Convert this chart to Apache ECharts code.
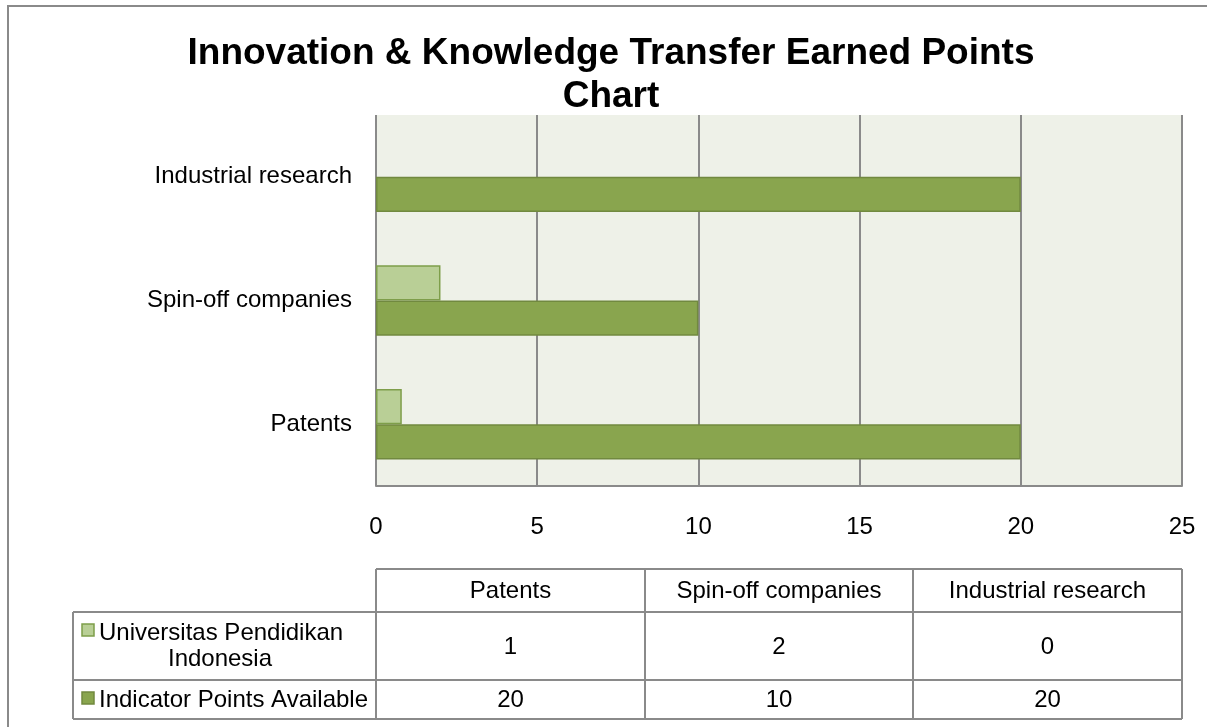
<!DOCTYPE html>
<html>
<head>
<meta charset="utf-8">
<script src="https://cdn.jsdelivr.net/npm/echarts@6/dist/echarts.min.js"></script>
<style>
html,body{margin:0;padding:0;background:#fff;}
#chart{width:1207px;height:727px;}
</style>
</head>
<body>
<div id="chart"></div>
<script>
// ---- data ----
var titleLines = ['Innovation & Knowledge Transfer Earned Points', 'Chart'];
var categories = ['Patents', 'Spin-off companies', 'Industrial research'];
var seriesNames = ['Universitas Pendidikan Indonesia', 'Indicator Points Available'];
var univValues = [0.8, 2, 0];
var indicatorValues = [20, 10, 20];
var xMin = 0, xMax = 25, xStep = 5;

// ---- styles ----
var FONT = '"Liberation Sans", Arial, sans-serif';
var GRID = '#8a8a8a';
var lightFill = '#B9CF96', lightBorder = '#7E9E4A';
var darkFill = '#89A54E', darkBorder = '#71893F';

var chart = echarts.init(document.getElementById('chart'));

// table geometry
var colX = [376, 645, 913, 1182];
var leftX = 73;
var rowY = [569, 612, 680, 719];
var lineStyle = {stroke: GRID, lineWidth: 2};
var graphics = [];
// outer frame
graphics.push({type: 'rect', shape: {x: 8, y: 6, width: 1400, height: 900}, style: {fill: 'none', stroke: '#8a8a8a', lineWidth: 2}, silent: true});
// horizontal lines
graphics.push({type: 'line', shape: {x1: colX[0], y1: rowY[0], x2: colX[3], y2: rowY[0]}, style: lineStyle});
for (var r = 1; r < rowY.length; r++) {
  graphics.push({type: 'line', shape: {x1: leftX, y1: rowY[r], x2: colX[3], y2: rowY[r]}, style: lineStyle});
}
// vertical lines
graphics.push({type: 'line', shape: {x1: leftX, y1: rowY[1], x2: leftX, y2: rowY[3]}, style: lineStyle});
for (var c = 0; c < colX.length; c++) {
  graphics.push({type: 'line', shape: {x1: colX[c], y1: rowY[0], x2: colX[c], y2: rowY[3]}, style: lineStyle});
}
var tf = 'normal 24px ' + FONT;
for (var i = 0; i < categories.length; i++) {
  var cx = (colX[i] + colX[i + 1]) / 2;
  graphics.push({type: 'text', x: cx, y: (rowY[0] + rowY[1]) / 2 + 1, style: {text: categories[i], font: tf, fill: '#000', align: 'center', verticalAlign: 'middle'}});
  graphics.push({type: 'text', x: cx, y: (rowY[1] + rowY[2]) / 2 + 1, style: {text: univValues[i].toFixed(0), font: tf, fill: '#000', align: 'center', verticalAlign: 'middle'}});
  graphics.push({type: 'text', x: cx, y: (rowY[2] + rowY[3]) / 2 + 1, style: {text: indicatorValues[i].toFixed(0), font: tf, fill: '#000', align: 'center', verticalAlign: 'middle'}});
}
// legend cells
graphics.push({type: 'rect', shape: {x: 82, y: 624, width: 12, height: 12}, style: {fill: lightFill, stroke: lightBorder, lineWidth: 1.5}});
graphics.push({type: 'text', x: 99, y: 633, style: {text: 'Universitas Pendidikan', font: tf, fill: '#000', align: 'left', verticalAlign: 'middle'}});
graphics.push({type: 'text', x: 220, y: 659, style: {text: 'Indonesia', font: tf, fill: '#000', align: 'center', verticalAlign: 'middle'}});
graphics.push({type: 'rect', shape: {x: 82, y: 692, width: 12, height: 12}, style: {fill: darkFill, stroke: darkBorder, lineWidth: 1.5}});
graphics.push({type: 'text', x: 99, y: 700, style: {text: seriesNames[1], font: tf, fill: '#000', align: 'left', verticalAlign: 'middle'}});

function barData(values) {
  return values.map(function (v) {
    return v === 0 ? {value: v, itemStyle: {borderWidth: 0}} : v;
  });
}

chart.setOption({
  animation: false,
  title: {
    text: titleLines.join('\n'),
    left: 606, top: 27, textAlign: 'center',
    textStyle: {fontFamily: FONT, fontSize: 37, fontWeight: 'bold', color: '#000', lineHeight: 43}
  },
  grid: {left: 376, right: 25, top: 115, bottom: 241, show: true, backgroundColor: '#EEF1E8', borderWidth: 0},
  xAxis: {
    type: 'value', min: xMin, max: xMax, interval: xStep,
    axisLine: {show: true, lineStyle: {color: GRID, width: 2}},
    axisTick: {show: false},
    splitLine: {show: true, lineStyle: {color: GRID, width: 2}},
    axisLabel: {fontFamily: FONT, fontSize: 24, color: '#000', margin: 29}
  },
  yAxis: {
    type: 'category', data: categories,
    axisLine: {show: false}, axisTick: {show: false},
    axisLabel: {fontFamily: FONT, fontSize: 24, color: '#000', margin: 24}
  },
  graphic: graphics,
  series: [
    {name: seriesNames[0], type: 'bar', data: barData(univValues), barGap: '0%', barCategoryGap: '43%',
     itemStyle: {color: lightFill, borderColor: lightBorder, borderWidth: 1.5}},
    {name: seriesNames[1], type: 'bar', data: barData(indicatorValues), barGap: '0%', barCategoryGap: '43%',
     itemStyle: {color: darkFill, borderColor: darkBorder, borderWidth: 1.5}}
  ]
});
</script>
</body>
</html>
